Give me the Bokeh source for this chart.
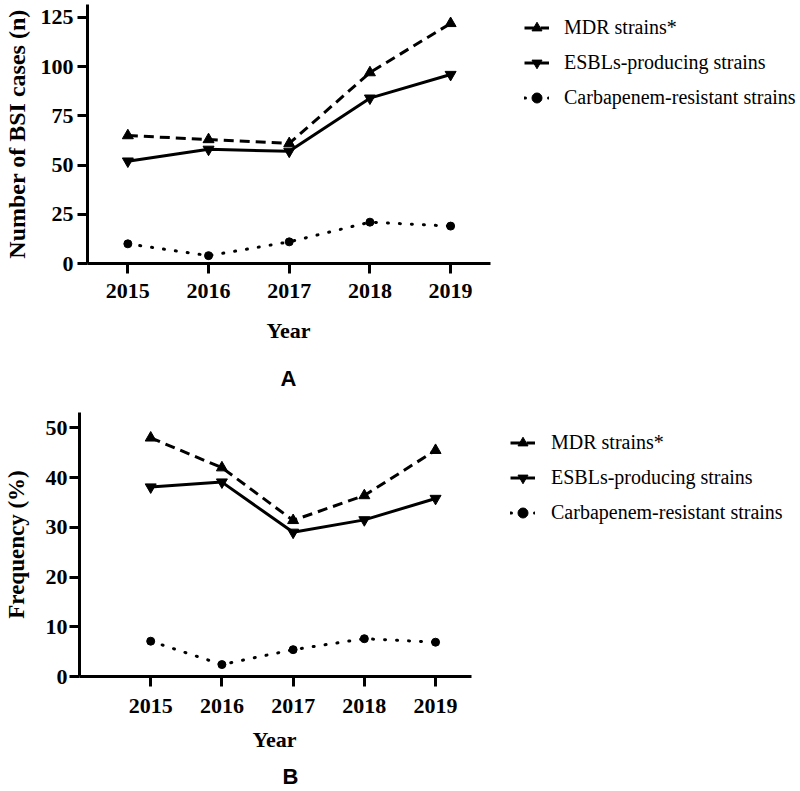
from bokeh.plotting import figure
from bokeh.models import Legend, LegendItem, Title, FixedTicker, Range1d
from bokeh.embed import file_html
from bokeh.resources import INLINE

# ---------------- data ----------------
years = [2015, 2016, 2017, 2018, 2019]

# Panel A: number of BSI cases (n)
a_mdr = [65, 63, 61, 97, 122]
a_esbl = [52, 58, 57, 84, 96]
a_carb = [10, 4, 11, 21, 19]
a_yticks = [0, 25, 50, 75, 100, 125]

# Panel B: frequency (%)
b_mdr = [48.0, 42.0, 31.4, 36.4, 45.5]
b_esbl = [38.1, 39.1, 29.0, 31.5, 35.8]
b_carb = [7.1, 2.4, 5.4, 7.6, 6.9]
b_yticks = [0, 10, 20, 30, 40, 50]

series_labels = ["MDR strains*", "ESBLs-producing strains", "Carbapenem-resistant strains"]
x_title = "Year"
a_ytitle = "Number of BSI cases (n)"
b_ytitle = "Frequency (%)"

SERIF = "Liberation Serif"
SANS = "Liberation Sans"
W = 800


def panel(mdr, esbl, carb, ytitle, ytitle_size, yticks, xr, xbounds, yr, height,
          borders, legend_loc, label_standoff, year_offset, year_standoff,
          letter, letter_offset, letter_standoff, xmaj_std, ylab_standoff,
          ymaj_std):
    l, r, t, b = borders
    p = figure(width=W, height=height, x_range=Range1d(*xr), y_range=Range1d(*yr),
               output_backend="svg", toolbar_location=None,
               min_border_left=l, min_border_right=r, min_border_top=t,
               min_border_bottom=b)
    p.outline_line_color = None
    p.grid.visible = False
    p.background_fill_color = "white"

    for ax in (p.xaxis[0], p.yaxis[0]):
        ax.axis_line_width = 3
        ax.axis_line_color = "black"
        ax.major_tick_line_width = 3
        ax.major_tick_line_color = "black"
        ax.major_tick_in = 0
        ax.major_tick_out = 10
        ax.minor_tick_line_color = None
        ax.major_label_text_font = SERIF
        ax.major_label_text_font_style = "bold"
        ax.major_label_text_font_size = "22px"
        ax.major_label_text_color = "black"
        ax.axis_label_text_font = SERIF
        ax.axis_label_text_font_style = "bold"
        ax.axis_label_text_color = "black"

    xa = p.xaxis[0]
    xa.ticker = FixedTicker(ticks=years)
    xa.bounds = xbounds
    xa.major_label_standoff = xmaj_std
    ya = p.yaxis[0]
    ya.ticker = FixedTicker(ticks=yticks)
    ya.axis_label = ytitle
    ya.axis_label_text_font_size = ytitle_size
    ya.major_label_standoff = ymaj_std
    ya.axis_label_standoff = ylab_standoff

    r1 = p.line(years, mdr, line_width=3, line_color="black", line_dash="10 6")
    s1 = p.scatter(years, mdr, marker="triangle", size=11, color="black")
    r2 = p.line(years, esbl, line_width=3, line_color="black")
    s2 = p.scatter(years, esbl, marker="inverted_triangle", size=11, color="black")
    r3 = p.line(years, carb, line_width=3, line_color="black", line_dash="1 11",
                line_cap="round")
    s3 = p.scatter(years, carb, marker="circle", size=8, color="black")

    legend = Legend(
        items=[LegendItem(label=series_labels[0], renderers=[r1, s1]),
               LegendItem(label=series_labels[1], renderers=[r2, s2]),
               LegendItem(label=series_labels[2], renderers=[r3, s3])],
        location=legend_loc, glyph_width=25, glyph_height=25, spacing=10,
        label_standoff=label_standoff, padding=0, margin=0,
        border_line_color=None, background_fill_alpha=0,
        label_text_font=SERIF, label_text_font_size="20px",
        label_text_color="black")
    p.add_layout(legend)

    # x-axis title (centred under the axis span) and the panel letter
    p.add_layout(Title(text=x_title, align="left", offset=year_offset,
                       standoff=year_standoff, text_font=SERIF,
                       text_font_style="bold", text_font_size="22px",
                       text_color="black"), "below")
    p.add_layout(Title(text=letter, align="left", offset=letter_offset,
                       standoff=letter_standoff, text_font=SANS,
                       text_font_style="bold", text_font_size="22px",
                       text_color="black"), "below")
    return p


pA = panel(a_mdr, a_esbl, a_carb, a_ytitle, "24px", a_yticks,
           (2014.5, 2023.336), (2014.5, 2019.5), (0, 131.6), 397,
           (86, 0, 4, 134), (437, 153.5), 15, 179, 30, "A", 193, 12, 10, 8, 4)
pB = panel(b_mdr, b_esbl, b_carb, b_ytitle, "23px", b_yticks,
           (2014.0, 2024.125), (2014.0, 2019.5), (0, 53.1), 393,
           (71, 0, 15, 114), (431, 151.5), 16, 173, 18, "B", 203, 3, 12, 14, 2)

open("out.html", "w").write(file_html([pA, pB], INLINE))
